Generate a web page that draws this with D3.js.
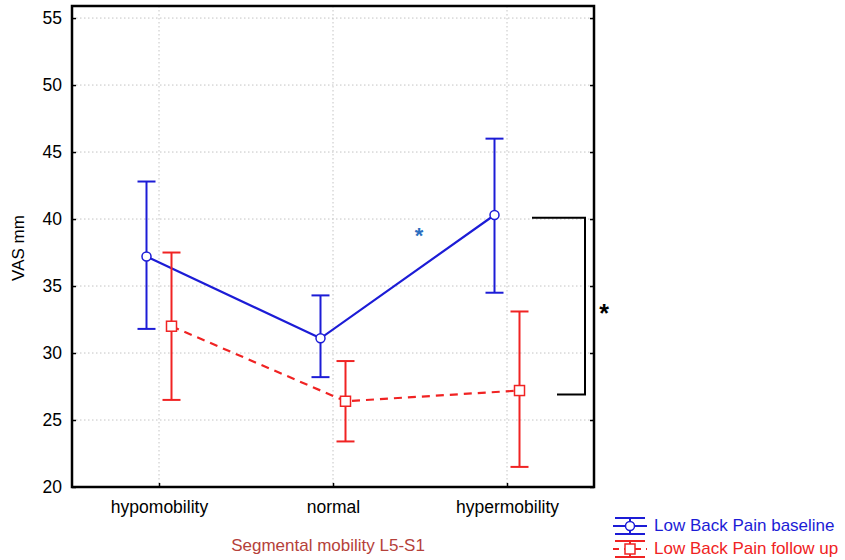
<!DOCTYPE html>
<html>
<head>
<meta charset="utf-8">
<script src="https://cdn.jsdelivr.net/npm/d3@7"></script>
<style>
  body { margin: 0; background: #fff; }
  text { font-family: 'Liberation Sans', Arial, sans-serif; }
</style>
</head>
<body>
<div id="graph"></div>
<script>
// The data...
var categories = [ 'hypomobility', 'normal', 'hypermobility' ];
var yTicks     = [ 20, 25, 30, 35, 40, 45, 50, 55 ];

var baselineMean  = [ 37.2, 31.1, 40.3 ];
var baselineUpper = [ 42.8, 34.3, 46.0 ];
var baselineLower = [ 31.8, 28.2, 34.5 ];

var followMean  = [ 32.0, 26.4, 27.2 ];
var followUpper = [ 37.5, 29.4, 33.1 ];
var followLower = [ 26.5, 23.4, 21.5 ];

var seriesNames = [ 'Low Back Pain baseline', 'Low Back Pain follow up' ];

// significance bracket (VAS values)
var bracketTop    = 40.1;
var bracketBottom = 26.9;

var blue = '#1c1cd6';
var red  = '#f02323';

var W = 845, H = 560;
var plot = { left: 72, right: 594, top: 6, bottom: 487 };

var svg = d3.select ('#graph').append ('svg')
            .attr ('width', W)
            .attr ('height', H);

var xScale = d3.scalePoint ()
               .domain (categories)
               .range ([ plot.left, plot.right ])
               .padding (0.5);

var yScale = d3.scaleLinear ()
               .domain ([ 20, 55.9 ])
               .range ([ plot.bottom, plot.top ]);

var offset = 12.5;

// Grid
svg.append ('g').selectAll ('line')
   .data (yTicks.slice (1))
   .enter ().append ('line')
   .attr ('x1', plot.left).attr ('x2', plot.right)
   .attr ('y1', function (d) { return yScale (d); })
   .attr ('y2', function (d) { return yScale (d); })
   .attr ('stroke', '#c4c4c4')
   .attr ('stroke-dasharray', '1.5,2.5');

svg.append ('g').selectAll ('line')
   .data (categories)
   .enter ().append ('line')
   .attr ('x1', function (d) { return xScale (d); })
   .attr ('x2', function (d) { return xScale (d); })
   .attr ('y1', plot.top).attr ('y2', plot.bottom)
   .attr ('stroke', '#c4c4c4')
   .attr ('stroke-dasharray', '1.5,2.5');

// Axes
var yAxis = d3.axisLeft (yScale).tickValues (yTicks).tickSizeInner (-4).tickSizeOuter (0).tickPadding (10);
var gy = svg.append ('g')
            .attr ('transform', 'translate(' + plot.left + ',0)')
            .call (yAxis);
gy.selectAll ('text').attr ('font-size', '17.5px').attr ('fill', '#000');

var yAxisR = d3.axisRight (yScale).tickValues (yTicks).tickSizeInner (-4).tickSizeOuter (0).tickFormat ('');
svg.append ('g')
   .attr ('transform', 'translate(' + plot.right + ',0)')
   .call (yAxisR);

var xAxis = d3.axisBottom (xScale).tickSizeInner (-4).tickSizeOuter (0).tickPadding (14);
var gx = svg.append ('g')
            .attr ('transform', 'translate(0,' + plot.bottom + ')')
            .call (xAxis);
gx.selectAll ('text').attr ('font-size', '17.5px').attr ('fill', '#000');

svg.selectAll ('.domain').remove ();
svg.selectAll ('.tick line').attr ('stroke', '#000').attr ('stroke-width', 1.5);

// Frame
svg.append ('rect')
   .attr ('x', plot.left).attr ('y', plot.top)
   .attr ('width', plot.right - plot.left)
   .attr ('height', plot.bottom - plot.top)
   .attr ('fill', 'none')
   .attr ('stroke', '#000')
   .attr ('stroke-width', 2.5);

// Axis titles
svg.append ('text')
   .attr ('transform', 'translate(24,248) rotate(-90)')
   .attr ('text-anchor', 'middle')
   .attr ('font-size', '17px')
   .text ('VAS mm');

svg.append ('text')
   .attr ('x', 328).attr ('y', 551)
   .attr ('text-anchor', 'middle')
   .attr ('font-size', '17px')
   .attr ('fill', '#b5413a')
   .text ('Segmental mobility L5-S1');

// Series
function drawSeries (mean, upper, lower, dx, colour, dashed, square)
{
    var g = svg.append ('g');
    var line = d3.line ()
                 .x (function (d, i) { return xScale (categories[i]) + dx; })
                 .y (function (d) { return yScale (d); });

    g.append ('path')
     .datum (mean)
     .attr ('d', line)
     .attr ('fill', 'none')
     .attr ('stroke', colour)
     .attr ('stroke-width', 2.2)
     .attr ('stroke-dasharray', dashed ? '8,6' : null);

    for (var i = 0; i < mean.length; i++)
    {
        var cx = xScale (categories[i]) + dx;
        g.append ('line')
         .attr ('x1', cx).attr ('x2', cx)
         .attr ('y1', yScale (upper[i])).attr ('y2', yScale (lower[i]))
         .attr ('stroke', colour).attr ('stroke-width', 2);
        [ upper[i], lower[i] ].forEach (function (v)
        {
            g.append ('line')
             .attr ('x1', cx - 9).attr ('x2', cx + 9)
             .attr ('y1', yScale (v)).attr ('y2', yScale (v))
             .attr ('stroke', colour).attr ('stroke-width', 2);
        });
        if (square)
            g.append ('rect')
             .attr ('x', cx - 5).attr ('y', yScale (mean[i]) - 5)
             .attr ('width', 10).attr ('height', 10)
             .attr ('fill', '#fff').attr ('stroke', colour).attr ('stroke-width', 1.5);
        else
            g.append ('circle')
             .attr ('cx', cx).attr ('cy', yScale (mean[i]))
             .attr ('r', 4.5)
             .attr ('fill', '#fff').attr ('stroke', colour).attr ('stroke-width', 1.5);
    }
}

drawSeries (baselineMean, baselineUpper, baselineLower, -offset, blue, false, false);
drawSeries (followMean,   followUpper,   followLower,    offset, red,  true,  true);

// Annotations
svg.append ('text')
   .attr ('x', 419).attr ('y', 243)
   .attr ('text-anchor', 'middle')
   .attr ('font-size', '22px')
   .attr ('font-weight', 'bold')
   .attr ('fill', '#2a6fc0')
   .text ('*');

var bx = 585;
svg.append ('path')
   .attr ('d', 'M532,' + yScale (bracketTop) + 'H' + bx + 'V' + yScale (bracketBottom) + 'H557')
   .attr ('fill', 'none')
   .attr ('stroke', '#000')
   .attr ('stroke-width', 2);

svg.append ('text')
   .attr ('x', 604).attr ('y', 322)
   .attr ('text-anchor', 'middle')
   .attr ('font-size', '25px')
   .attr ('font-weight', 'bold')
   .text ('*');

// Legend
var legend = svg.append ('g');
[ 0, 1 ].forEach (function (k)
{
    var colour = k == 0 ? blue : red;
    var ly = k == 0 ? 526 : 549;
    var lx = 630;
    legend.append ('line')
          .attr ('x1', lx - 15).attr ('x2', lx + 15)
          .attr ('y1', ly - 8).attr ('y2', ly - 8)
          .attr ('stroke', colour).attr ('stroke-width', 2);
    legend.append ('line')
          .attr ('x1', lx - 15).attr ('x2', lx + 15)
          .attr ('y1', ly + 8).attr ('y2', ly + 8)
          .attr ('stroke', colour).attr ('stroke-width', 2);
    legend.append ('line')
          .attr ('x1', lx).attr ('x2', lx)
          .attr ('y1', ly - 8).attr ('y2', ly + 8)
          .attr ('stroke', colour).attr ('stroke-width', 2);
    legend.append ('line')
          .attr ('x1', lx - 17).attr ('x2', lx + 17)
          .attr ('y1', ly).attr ('y2', ly)
          .attr ('stroke', colour).attr ('stroke-width', 2)
          .attr ('stroke-dasharray', k == 0 ? null : '6,5');
    if (k == 0)
        legend.append ('circle')
              .attr ('cx', lx).attr ('cy', ly).attr ('r', 4.5)
              .attr ('fill', '#fff').attr ('stroke', colour).attr ('stroke-width', 1.5);
    else
        legend.append ('rect')
              .attr ('x', lx - 5).attr ('y', ly - 5).attr ('width', 10).attr ('height', 10)
              .attr ('fill', '#fff').attr ('stroke', colour).attr ('stroke-width', 1.5);
    legend.append ('text')
          .attr ('x', 654).attr ('y', ly + 5)
          .attr ('font-size', '17px')
          .attr ('fill', colour)
          .text (seriesNames[k]);
});
</script>
</body>
</html>
